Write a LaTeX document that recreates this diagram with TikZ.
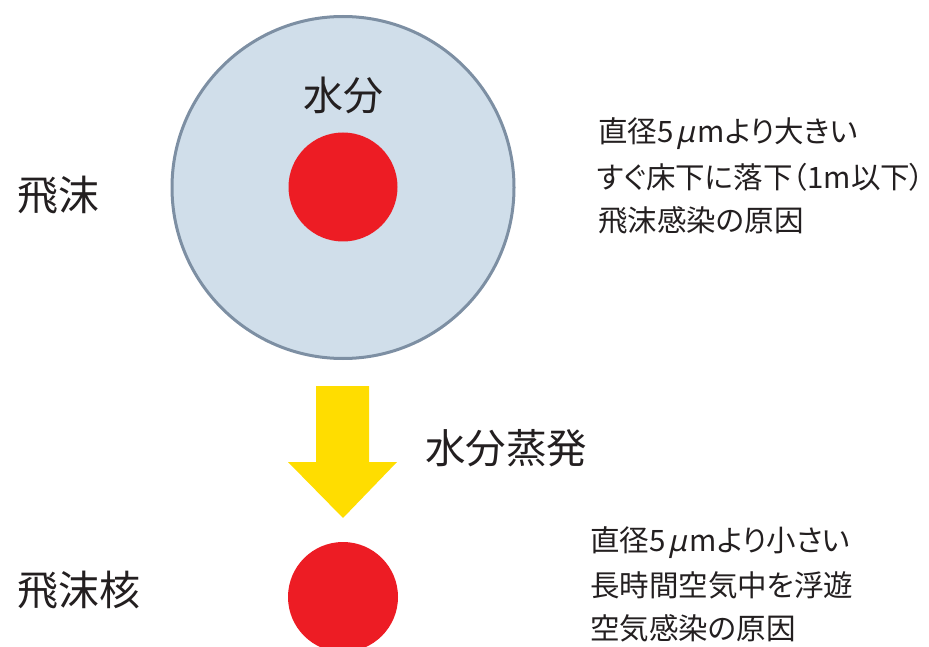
\documentclass[tikz,border=0pt]{standalone}
\usepackage{fontspec}
\setmainfont{Noto Sans CJK JP}
\newfontfamily\propfont[RawFeature=+palt]{Noto Sans CJK JP}
\newfontfamily\greekslant[FakeSlant=0.22]{Noto Sans}
\newcommand{\micro}{\kern2.5pt{\greekslant μ}\kern3pt}
\definecolor{mist}{HTML}{D0DEEA}
\definecolor{rim}{HTML}{7D8FA3}
\definecolor{core}{HTML}{ED1C24}
\definecolor{sun}{HTML}{FFDD00}
\definecolor{ink}{HTML}{231F20}
\begin{document}
\begin{tikzpicture}[x=1pt,y=-1pt,
  lbl/.style={inner sep=0pt,anchor=west,text=ink},
  big/.style={lbl,font=\fontsize{41}{41}\selectfont},
  small/.style={lbl,font=\propfont\fontsize{29.5}{29.5}\selectfont}]
\useasboundingbox (0,0) rectangle (929,647);
% droplet
\node[circle,draw=rim,line width=3pt,fill=mist,minimum size=342pt,inner sep=0pt] (drop) at (343,187.5) {};
\node[circle,fill=core,minimum size=109pt,inner sep=0pt] (nuc1) at (343,187) {};
\node[inner sep=0pt,text=ink,font=\fontsize{40}{40}\selectfont] (water) at (343,95) {水分};
% labels left
\node[big] (t1) at (17,195) {飛沫};
\node[big] (t2) at (17,590) {飛沫核};
% right texts
\node[small] (r1) at (598,134) {直径5\micro mより大きい};
\node[small] (r2) at (597,177) {すぐ床下に落下（1m以下\rlap{）}};
\node[small] (r3) at (598,220) {飛沫感染の原因};
\node[small] (s1) at (590,543) {直径5\micro mより小さい};
\node[small] (s2) at (590,585.5) {長時間空気中を浮遊};
\node[small] (s3) at (590,628) {空気感染の原因};
% arrow
\fill[sun] (316,386) -- (369,386) -- (369,462) -- (397,462) -- (343,518) -- (288,462) -- (316,462) -- cycle;
\node[lbl,font=\fontsize{40.5}{40.5}\selectfont] (evap) at (425,448.5) {水分蒸発};
% nucleus
\node[circle,fill=core,minimum size=110pt,inner sep=0pt] (nuc2) at (343,597) {};
\end{tikzpicture}
\end{document}
